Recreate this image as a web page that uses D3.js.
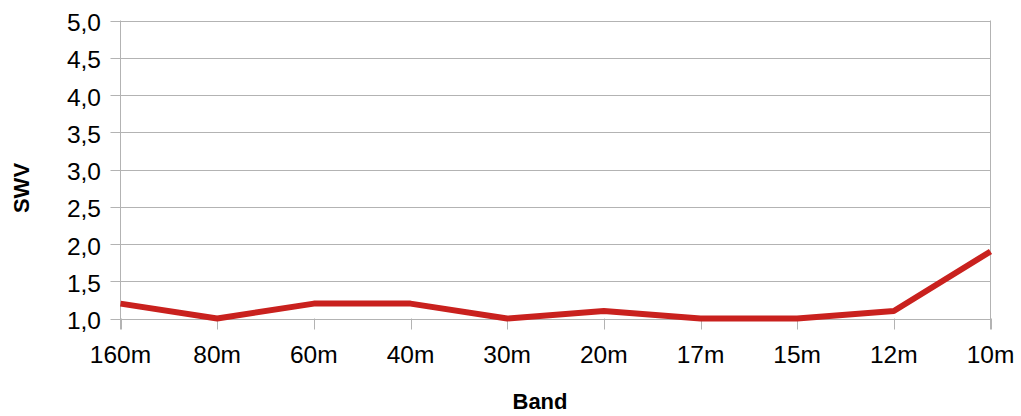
<!DOCTYPE html>
<html><head><meta charset="utf-8">
<script src="https://cdn.jsdelivr.net/npm/d3@7"></script>
<style>body{margin:0;background:#fff}svg{display:block}text{font-family:"Liberation Sans",Arial,sans-serif}</style>
</head><body>
<svg id="c" width="1021" height="416"></svg>
<script>
const bands = ["160m","80m","60m","40m","30m","20m","17m","15m","12m","10m"];
const swv = [1.2,1.0,1.2,1.2,1.0,1.1,1.0,1.0,1.1,1.9];
const yTicks = [1.0,1.5,2.0,2.5,3.0,3.5,4.0,4.5,5.0];

const svg = d3.select("#c");
const L=120.5, R=990.5, T=20.5, B=318.5;
const x = d3.scalePoint().domain(bands).range([L,R]);
const y = d3.scaleLinear().domain([1,5]).range([B,T]);
const fmt = v => d3.format(".1f")(v).replace(".", ",");

// gridlines
svg.append("g").selectAll("line").data(yTicks).join("line")
  .attr("x1",L-10).attr("x2",R).attr("y1",d=>Math.round(y(d))+0.5).attr("y2",d=>Math.round(y(d))+0.5)
  .attr("stroke","#b3b3b3").attr("stroke-width",1);
// vertical frame lines
svg.append("line").attr("x1",L).attr("x2",L).attr("y1",T).attr("y2",B+11).attr("stroke","#b3b3b3");
svg.append("line").attr("x1",R).attr("x2",R).attr("y1",T).attr("y2",B+11).attr("stroke","#b3b3b3");
// x ticks
svg.append("g").selectAll("line").data(bands).join("line")
  .attr("x1",d=>Math.round(x(d))+0.5).attr("x2",d=>Math.round(x(d))+0.5).attr("y1",B).attr("y2",B+11)
  .attr("stroke","#b3b3b3");

// y labels
svg.append("g").selectAll("text").data(yTicks).join("text")
  .attr("x",101).attr("y",d=>y(d)+10.5).attr("text-anchor","end")
  .attr("font-size",24.5).attr("fill","#000").text(fmt);
// x labels
svg.append("g").selectAll("text").data(bands).join("text")
  .attr("x",d=>x(d)).attr("y",363).attr("text-anchor","middle")
  .attr("font-size",24.5).attr("fill","#000").text(d=>d);

// titles
svg.append("text").attr("x",540).attr("y",409).attr("text-anchor","middle")
  .attr("font-size",22).attr("font-weight","bold").text("Band");
svg.append("text").attr("transform","translate(29,188) rotate(-90)").attr("text-anchor","middle")
  .attr("font-size",22).attr("font-weight","bold").text("SWV");

// line
svg.append("path").datum(bands.map((b,i)=>[b,swv[i]]))
  .attr("fill","none").attr("stroke","#c9211e").attr("stroke-width",6)
  .attr("stroke-linejoin","round")
  .attr("d", d3.line().x(d=>x(d[0])).y(d=>y(d[1])));
</script>
</body></html>
